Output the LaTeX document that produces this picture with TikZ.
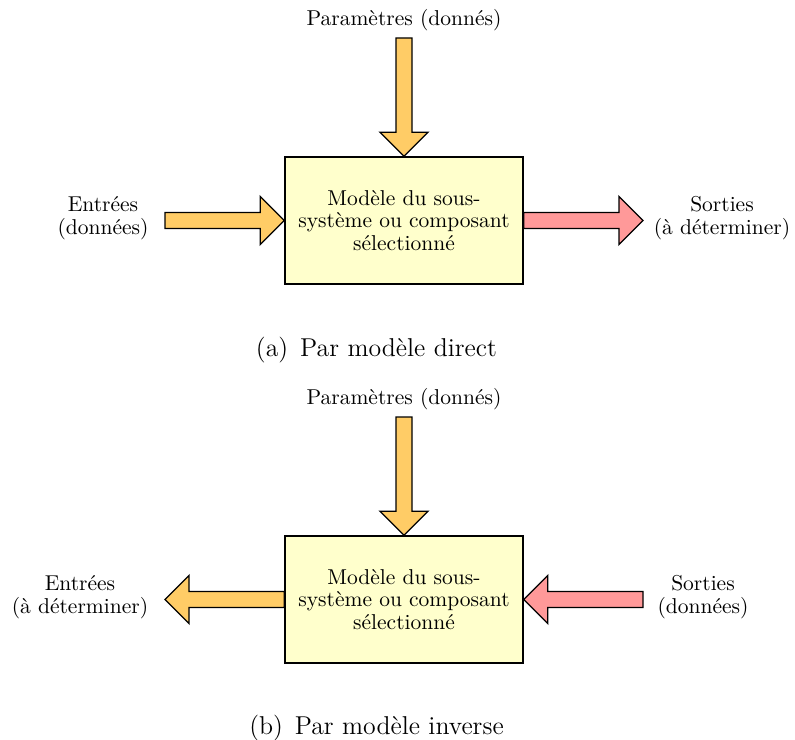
\documentclass[tikz,border=0pt]{standalone}
\usetikzlibrary{calc}
\definecolor{arrorange}{RGB}{255,204,102}
\definecolor{arrpink}{RGB}{255,153,153}
\definecolor{boxyellow}{RGB}{255,255,204}
\newcommand\fatarrow[3]{%
  \coordinate (hb) at ($(#3)!11.16pt!(#2)$);
  \draw[fatline,fill=#1]
    ($(#2)!3.72pt!90:(#3)$) -- ($(hb)!3.72pt!90:(#3)$) -- ($(hb)!11.16pt!90:(#3)$)
    -- (#3) -- ($(hb)!11.16pt!-90:(#3)$) -- ($(hb)!3.72pt!-90:(#3)$)
    -- ($(#2)!3.72pt!-90:(#3)$) -- cycle;}
\tikzset{
  fatline/.style={line width=0.6pt, line join=miter},
  modelbox/.style={draw, line width=0.6pt, fill=boxyellow, minimum width=110.7pt,
    minimum height=59.1pt, align=center, inner sep=0pt,
    font=\fontsize{10}{10.6}\selectfont},
  lbl/.style={align=center, inner sep=0pt, font=\fontsize{10}{10.6}\selectfont},
  captext/.style={inner sep=0pt, font=\fontsize{12}{14}\selectfont}
}
\begin{document}
\begin{tikzpicture}[x=0.465pt, y=-0.465pt]
\useasboundingbox (0,0) rectangle (795,740);
% ---- (a)
\node[modelbox] (boxa) at (404,220.5) {Modèle du sous-\\système ou composant\\sélectionné};
\node[lbl] (paramsa) at (404,20) {Paramètres (donnés)};
\node[lbl] (ina) at (103,218) {Entrées\\(données)};
\node[lbl] (outa) at (722,218) {Sorties\\(à déterminer)};
\coordinate (pa) at (404,38);
\coordinate (ia) at (165,220.5);
\coordinate (oa) at (643,220.5);
\fatarrow{arrorange}{pa}{boxa.north}
\fatarrow{arrorange}{ia}{boxa.west}
\fatarrow{arrpink}{boxa.east}{oa}
\node[captext] (capa) at (376.5,350) {(a)\hspace{5.5pt}Par modèle direct};
% ---- (b)
\node[modelbox] (boxb) at (404,599.5) {Modèle du sous-\\système ou composant\\sélectionné};
\node[lbl] (paramsb) at (404,399) {Paramètres (donnés)};
\node[lbl] (inb) at (80,597) {Entrées\\(à déterminer)};
\node[lbl] (outb) at (703,597) {Sorties\\(données)};
\coordinate (pb) at (404,417);
\coordinate (ib) at (165,599.5);
\coordinate (ob) at (643,599.5);
\fatarrow{arrorange}{pb}{boxb.north}
\fatarrow{arrorange}{boxb.west}{ib}
\fatarrow{arrpink}{ob}{boxb.east}
\node[captext] (capb) at (376.5,728) {(b)\hspace{5.5pt}Par modèle inverse};
\end{tikzpicture}
\end{document}
